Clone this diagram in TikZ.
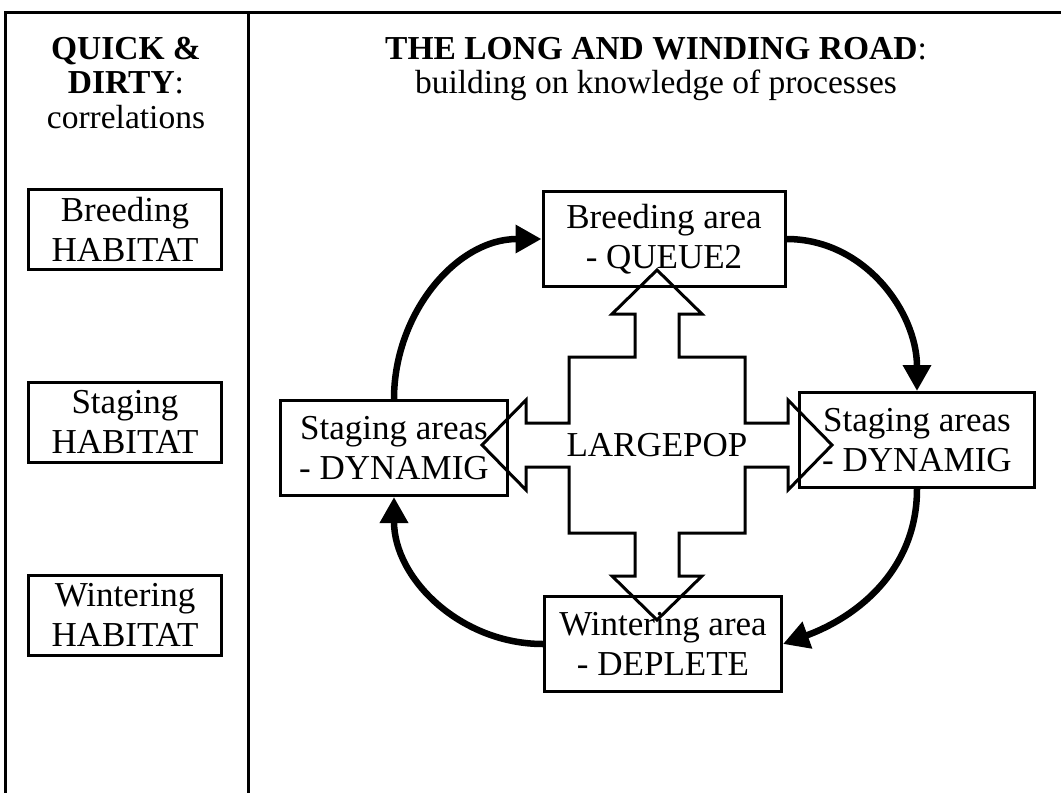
\documentclass[tikz,border=0pt]{standalone}
\usepackage{fontspec}
\setmainfont{Liberation Serif}
\usepackage{tikz}
\usetikzlibrary{arrows.meta,positioning}
\tikzstyle{habbox} = [draw, line width=3pt, align=center, minimum width=193pt, minimum height=80pt, inner sep=0pt]
\tikzstyle{areabox} = [draw, line width=3pt, align=center, minimum height=95pt, inner sep=0pt]
\tikzstyle{arrow} = [line width=6.5pt, -{Triangle[length=26pt,width=27pt]}]
\tikzstyle{crossline} = [line width=3pt, line join=miter]
\newcommand{\headtext}{\fontsize{33.5}{34.5}\selectfont}
\newcommand{\boxtext}{\fontsize{35}{40}\selectfont}

\begin{document}
\begin{tikzpicture}[x=1pt, y=1pt, font=\boxtext]
\useasboundingbox (0,0) rectangle (1061,-793);
% Frame
\draw[line width=3pt] (5,-793) -- (5,-12) -- (1061,-12);
\draw[line width=3pt] (248,-12) -- (248,-793);

% Headings
\node[align=center, inner sep=0pt, anchor=north, font=\headtext] (quick) at (126,-37)
    {\textbf{QUICK \&}\\\textbf{DIRTY}:\\correlations};
\node[align=center, inner sep=0pt, anchor=north, font=\headtext] (road) at (656,-37)
    {\textbf{THE LONG AND WINDING ROAD}:\\building on knowledge of processes};

% Habitat boxes (left column)
\node[habbox] (breedhab) at (125,-229) {Breeding\\HABITAT};
\node[habbox] (stagehab) at (125,-422) {Staging\\HABITAT};
\node[habbox] (winthab) at (125,-615) {Wintering\\HABITAT};

% Area boxes
\node[areabox, minimum width=242pt] (breed) at (664,-239) {Breeding area\\- QUEUE2};
\node[areabox, minimum width=227pt] (lstage) at (394,-448) {Staging areas\\- DYNAMIG};
\node[areabox, minimum width=235pt] (rstage) at (917,-440) {Staging areas\\- DYNAMIG};
\node[areabox, minimum width=237pt] (wint) at (663,-644) {Wintering area\\- DEPLETE};

% Four-way arrow
\begin{scope}[shift={(657,-445)}]
\draw[crossline] (88,-88) \foreach \a in {0,90,180,270} {
    -- ([rotate=\a]88,-22) -- ([rotate=\a]131,-22) -- ([rotate=\a]131,-45)
    -- ([rotate=\a]175,0) -- ([rotate=\a]131,45) -- ([rotate=\a]131,22)
    -- ([rotate=\a]88,22) -- ([rotate=\a]88,88)} -- cycle;
\node (pop) at (0,0) {LARGEPOP};
\end{scope}

% Migration cycle
\draw[arrow] (lstage.north) to[out=90,in=180] (breed.west);
\draw[arrow] (breed.east) to[out=0,in=90] (rstage.north);
\draw[arrow] (rstage.south) to[out=-90,in=20] (wint.east);
\draw[arrow] (wint.west) to[out=180,in=-90] (lstage.south);
\end{tikzpicture}
\end{document}
